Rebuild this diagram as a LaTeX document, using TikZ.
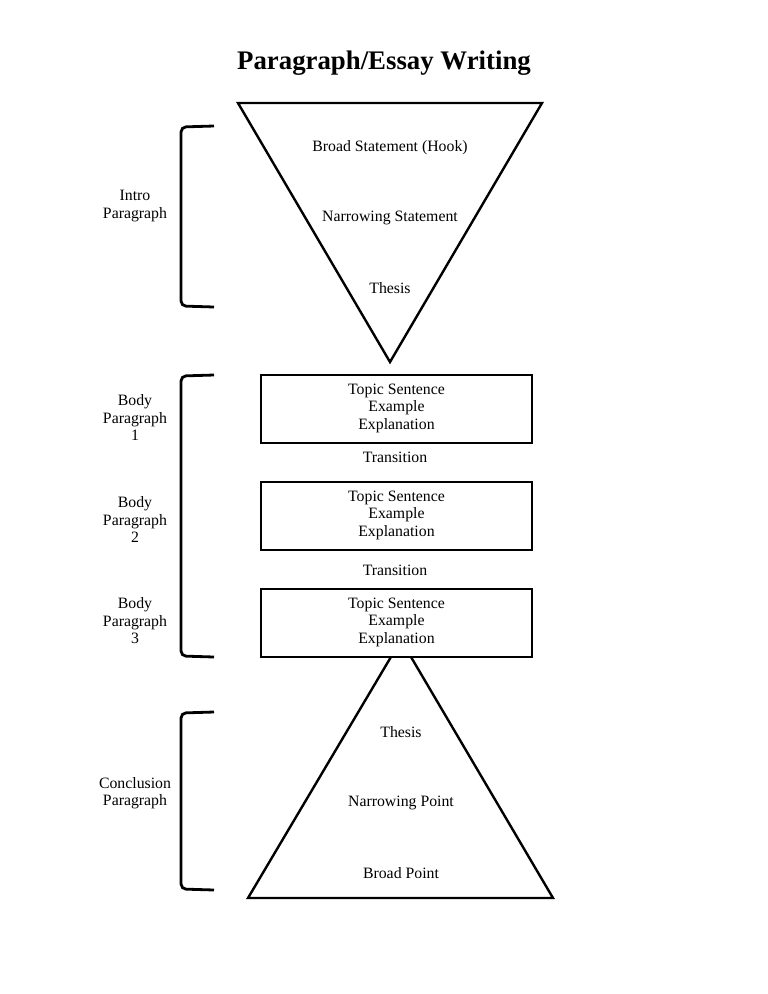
\documentclass[tikz,border=0pt]{standalone}
\usepackage{fontspec}
\setmainfont{Liberation Serif}
\begin{document}
\begin{tikzpicture}[x=1pt,y=-1pt,
  lbl/.style={font=\fontsize{15.8}{17.5}\selectfont, align=center, inner sep=0pt},
  triline/.style={line width=2.4pt, line join=miter},
  brk/.style={line width=2.8pt, rounded corners=5pt},
  boxst/.style={draw, line width=2pt, fill=white, minimum width=271pt, minimum height=68pt, inner sep=0pt, anchor=north west}]
\useasboundingbox (0,0) rectangle (768,994);
\node[font=\fontsize{26.8}{30}\selectfont\bfseries, inner sep=0pt] (title) at (384,63) {Paragraph/Essay Writing};
% intro triangle
\coordinate (t1) at (238,103);
\coordinate (t2) at (542,103);
\coordinate (t3) at (390,362);
\draw[triline] (t1) -- (t2) -- (t3) -- cycle;
\node[lbl] (hook) at (390,148) {Broad Statement (Hook)};
\node[lbl] (narrow) at (390,218) {Narrowing Statement};
\node[lbl] (thesis) at (390,288) {Thesis};
% conclusion triangle
\coordinate (b1) at (248,898);
\coordinate (b2) at (553,898);
\coordinate (b3) at (401,640);
\draw[triline] (b1) -- (b3) -- (b2) -- cycle;
\node[lbl] (cthesis) at (401,732) {Thesis};
\node[lbl] (cnarrow) at (401,803) {Narrowing Point};
\node[lbl] (cbroad) at (401,873) {Broad Point};
% boxes
\node[boxst] (box1) at (260,374) {};
\node[boxst] (box2) at (260,481) {};
\node[boxst] (box3) at (260,588) {};
\node[lbl] at ([yshift=1pt]box1.center) {Topic Sentence\\Example\\Explanation};
\node[lbl] at ([yshift=1pt]box2.center) {Topic Sentence\\Example\\Explanation};
\node[lbl] at ([yshift=1pt]box3.center) {Topic Sentence\\Example\\Explanation};
\node[lbl] (tr1) at (395,457) {Transition};
\node[lbl] (tr2) at (395,570) {Transition};
% brackets
\draw[brk] (214,126) -- (181,127) -- (181,306) -- (214,307);
\draw[brk] (214,375) -- (181,376) -- (181,656) -- (214,657);
\draw[brk] (214,712) -- (181,713) -- (181,889) -- (214,890);
% side labels
\node[lbl] (intro) at (135,206) {Intro\\Paragraph};
\node[lbl] (bp1) at (135,418) {Body\\Paragraph\\1};
\node[lbl] (bp2) at (135,520) {Body\\Paragraph\\2};
\node[lbl] (bp3) at (135,621) {Body\\Paragraph\\3};
\node[lbl] (concl) at (135,793) {Conclusion\\Paragraph};
\end{tikzpicture}
\end{document}
